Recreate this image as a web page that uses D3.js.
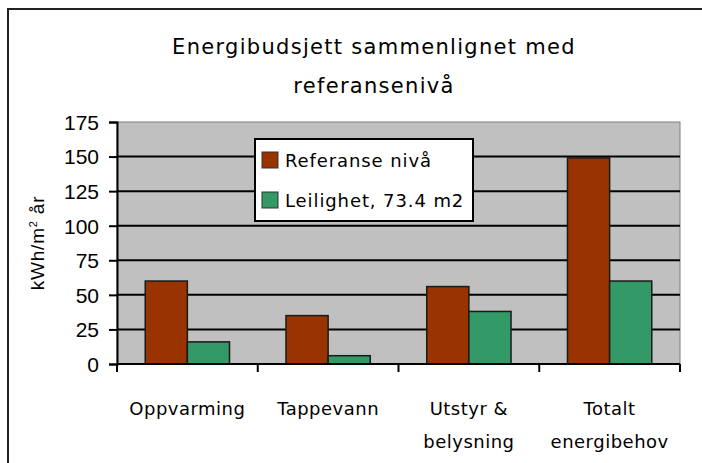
<!DOCTYPE html>
<html>
<head>
<meta charset="utf-8">
<script src="https://cdn.jsdelivr.net/npm/d3@7"></script>
<style>
  body { margin: 0; background: #fff; }
  text { font-family: "DejaVu Sans", sans-serif; fill: #000; }
</style>
</head>
<body>
<div id="chart"></div>
<script>
// Data
const categories = ['Oppvarming', 'Tappevann', 'Utstyr & belysning', 'Totalt energibehov'];
const categoryLines = [['Oppvarming'], ['Tappevann'], ['Utstyr &', 'belysning'], ['Totalt', 'energibehov']];
const seriesNames = ['Referanse nivå', 'Leilighet, 73.4 m2'];
const referanse = [60, 35, 56, 149];
const leilighet = [16, 6, 38, 60];
const yTicks = [0, 25, 50, 75, 100, 125, 150, 175];
const colors = ['#993300', '#339966'];

const W = 702, H = 463;
const margin = { top: 122, right: 22, bottom: 99, left: 117 };
const width = W - margin.left - margin.right;
const height = H - margin.top - margin.bottom;

const svg = d3.select('#chart')
    .append('svg')
    .attr('width', W)
    .attr('height', H);

// outer frame (cut off right and bottom)
svg.append('rect')
    .attr('x', 8).attr('y', 9)
    .attr('width', 720).attr('height', 480)
    .attr('fill', 'none')
    .attr('stroke', '#222')
    .attr('stroke-width', 2);

// Title
svg.append('text')
    .attr('x', 374).attr('y', 54)
    .attr('text-anchor', 'middle')
    .style('font-size', '21px')
    .style('letter-spacing', '1.3px')
    .text('Energibudsjett sammenlignet med');
svg.append('text')
    .attr('x', 374).attr('y', 93)
    .attr('text-anchor', 'middle')
    .style('font-size', '21px')
    .style('letter-spacing', '1.3px')
    .text('referansenivå');

const g = svg.append('g')
    .attr('transform', `translate(${margin.left}, ${margin.top})`);

const x0 = d3.scaleBand()
    .domain(categories)
    .range([0, width])
    .paddingInner(0)
    .paddingOuter(0);

const x1 = d3.scaleBand()
    .domain(seriesNames)
    .range([0, x0.bandwidth()])
    .paddingOuter(0.67)
    .paddingInner(0);

const y = d3.scaleLinear()
    .domain([0, 175])
    .range([height, 0]);

// plot area
g.append('rect')
    .attr('width', width)
    .attr('height', height)
    .attr('fill', '#c0c0c0')
    .attr('stroke', '#808080')
    .attr('stroke-width', 1);

// gridlines
g.selectAll('.grid')
    .data(yTicks.filter(d => d > 0 && d < 175))
    .enter()
    .append('line')
    .attr('x1', 0).attr('x2', width)
    .attr('y1', d => y(d)).attr('y2', d => y(d))
    .attr('stroke', '#000')
    .attr('stroke-width', 2);

// bars
const rows = categories.map((c, i) => ({ cat: c, vals: [referanse[i], leilighet[i]] }));
const grp = g.selectAll('.cat')
    .data(rows)
    .enter()
    .append('g')
    .attr('transform', d => `translate(${x0(d.cat)}, 0)`);

grp.selectAll('rect')
    .data(d => d.vals.map((v, j) => ({ name: seriesNames[j], value: v, j: j })))
    .enter()
    .append('rect')
    .attr('x', d => x1(d.name))
    .attr('y', d => y(d.value))
    .attr('width', x1.bandwidth())
    .attr('height', d => height - y(d.value))
    .attr('fill', d => colors[d.j])
    .attr('stroke', '#1a1a1a')
    .attr('stroke-width', 1.5);

// y axis
const yAxis = d3.axisLeft(y)
    .tickValues(yTicks)
    .tickSize(8)
    .tickPadding(10);
const yA = g.append('g').call(yAxis);
yA.select('.domain').attr('stroke', '#000').attr('stroke-width', 2);
yA.selectAll('.tick line').attr('stroke', '#000').attr('stroke-width', 2);
yA.selectAll('text')
    .style('font-family', '"Liberation Sans", Arial, sans-serif')
    .style('font-size', '21px')
    .attr('dy', '0.35em');

// x axis
const xA = g.append('g')
    .attr('transform', `translate(0, ${height})`);
xA.append('line')
    .attr('x1', 0).attr('x2', width)
    .attr('stroke', '#000').attr('stroke-width', 2);
xA.selectAll('.xt')
    .data(d3.range(categories.length + 1))
    .enter()
    .append('line')
    .attr('x1', i => i * x0.step()).attr('x2', i => i * x0.step())
    .attr('y1', 0).attr('y2', 8)
    .attr('stroke', '#000').attr('stroke-width', 2);

xA.selectAll('.xl')
    .data(categories)
    .enter()
    .append('text')
    .attr('text-anchor', 'middle')
    .style('font-size', '18px')
    .style('letter-spacing', '0.5px')
    .attr('transform', d => `translate(${x0(d) + x0.bandwidth() / 2}, 51)`)
    .each(function(d, i) {
        const t = d3.select(this);
        categoryLines[i].forEach((line, k) => {
            t.append('tspan')
                .attr('x', 0)
                .attr('y', k * 33)
                .text(line);
        });
    });

// y label
svg.append('text')
    .attr('transform', 'translate(44, 243) rotate(-90)')
    .attr('text-anchor', 'middle')
    .style('font-family', '"Liberation Sans", Arial, sans-serif')
    .style('font-size', '19px')
    .style('letter-spacing', '0.8px')
    .html('kWh/m<tspan dy="-7" font-size="11px">2</tspan><tspan dy="7"> år</tspan>');

// legend
const lg = svg.append('g').attr('transform', 'translate(255, 139)');
lg.append('rect')
    .attr('width', 218).attr('height', 82)
    .attr('fill', '#fff')
    .attr('stroke', '#000')
    .attr('stroke-width', 2);
seriesNames.forEach((name, i) => {
    lg.append('rect')
        .attr('x', 7).attr('y', 13 + i * 40)
        .attr('width', 16).attr('height', 16)
        .attr('fill', colors[i])
        .attr('stroke', '#333')
        .attr('stroke-width', 1);
    lg.append('text')
        .attr('x', 30).attr('y', 28 + i * 40)
        .style('font-size', '18px')
        .style('letter-spacing', '0.9px')
        .text(name);
});
</script>
</body>
</html>
